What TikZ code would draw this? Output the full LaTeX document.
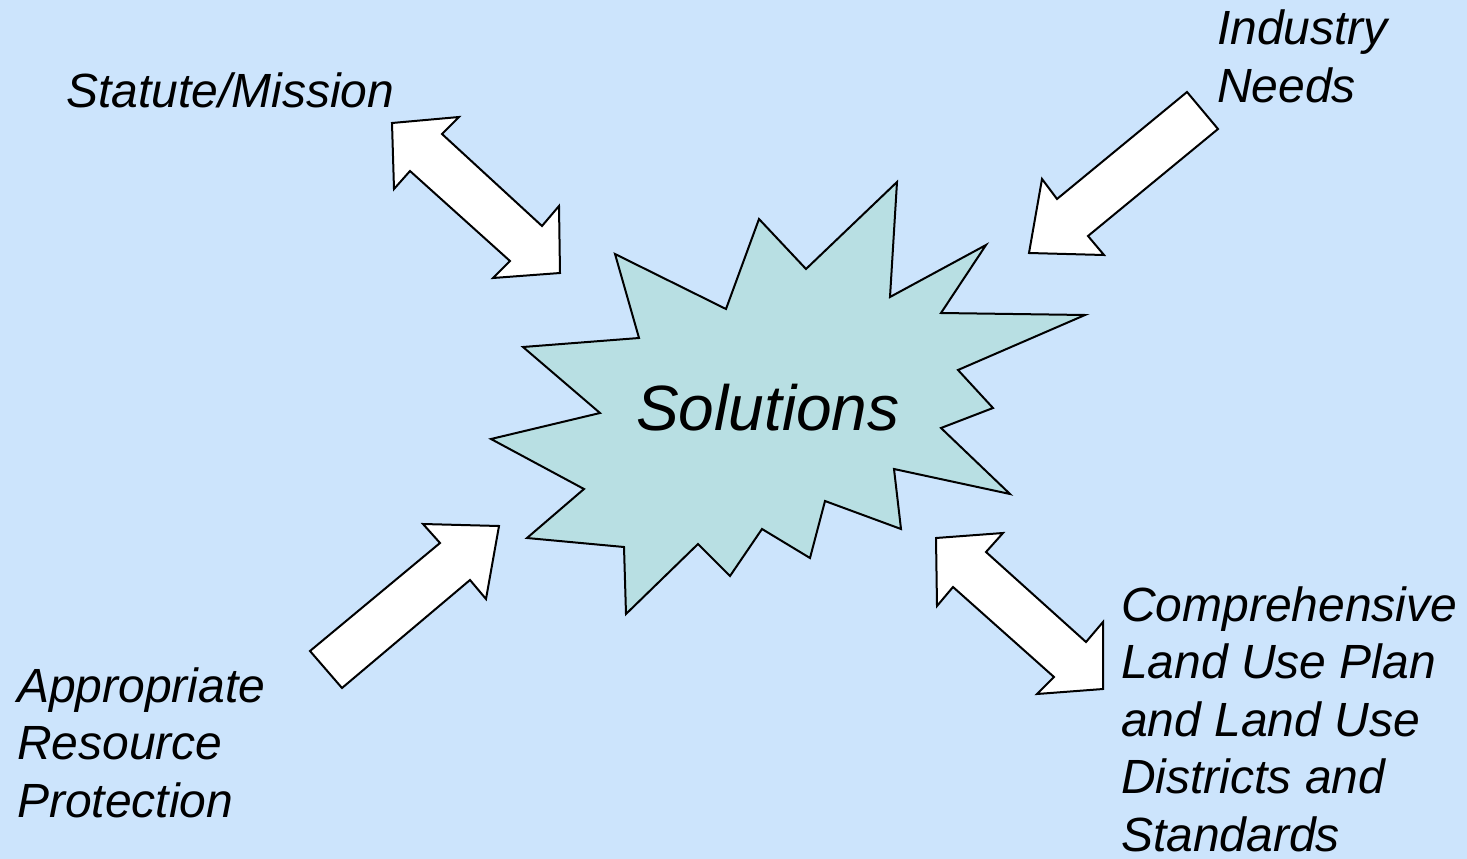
\documentclass[tikz,border=0pt]{standalone}
\usepackage{fontspec}
\setmainfont{Liberation Sans}
\definecolor{skyback}{RGB}{204,228,252}
\definecolor{burstfill}{RGB}{184,223,227}
\begin{document}
\begin{tikzpicture}[x=1pt,y=-1pt,
	block/.style={fill=white,draw=black,line width=2pt,line join=miter},
	label/.style={inner sep=0pt,align=left,font=\itshape\fontsize{48}{57.5}\selectfont}]
	\fill[skyback] (0,0) rectangle (1467,859);
	\useasboundingbox (0,0) rectangle (1467,859);
	
	% the burst in the middle
	\filldraw[fill=burstfill,draw=black,line width=2pt] (615,254) -- (726,309) -- (759,219) -- (806,269) -- (897,182) -- (890,297) -- (986,245) -- (941,313) -- (1085,315) -- (958,370) -- (993,408) -- (941,428) -- (1010,494) -- (894,469) -- (901,529) -- (825,501) -- (810,558) -- (762,529) -- (730,576) -- (698,544) -- (626,614) -- (624,547) -- (527,538) -- (584,489) -- (491,439) -- (600,413) -- (523,347) -- (639,338) -- cycle;
	\node[inner sep=0pt,anchor=base west,font=\itshape\fontsize{64}{70}\selectfont] (solutions) at (636,430) {Solutions};
	
	% block arrows
	\filldraw[block] (392,123) -- (459,117) -- (442,134) -- (542,226) -- (559,206) -- (560,273) -- (493,278) -- (510,261) -- (410,171) -- (394,189) -- cycle;
	\filldraw[block] (1187,92) -- (1218,129) -- (1088,236) -- (1104,255) -- (1029,253) -- (1042,179) -- (1057,199) -- cycle;
	\filldraw[block] (310,651) -- (440,543) -- (423,524) -- (499,526) -- (486,599) -- (470,580) -- (342,688) -- cycle;
	\filldraw[block] (936,538) -- (1003,533) -- (986,552) -- (1086,642) -- (1103,622) -- (1103,689) -- (1037,694) -- (1054,677) -- (953,587) -- (937,606) -- cycle;
	
	% labels (base = last line)
	\node[label,anchor=base west] (statute) at (66,107) {Statute/Mission};
	\node[label,anchor=base west] (industry) at (1217,102) {Industry\\Needs};
	\node[label,anchor=base west] (appropriate) at (17,817) {Appropriate\\Resource\\Protection};
	\node[label,anchor=base west] (comprehensive) at (1121,851) {Comprehensive\\Land Use Plan\\and Land Use\\Districts and\\Standards};
\end{tikzpicture}
\end{document}
